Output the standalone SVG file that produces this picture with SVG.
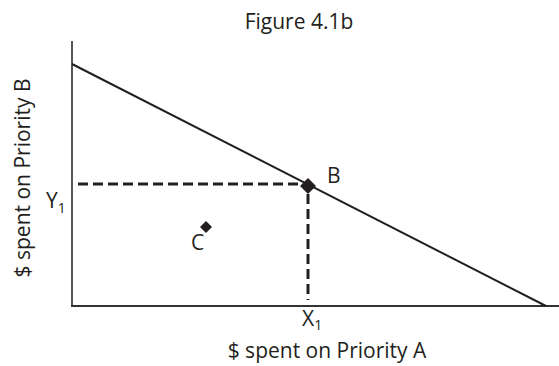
<svg xmlns="http://www.w3.org/2000/svg" width="559" height="366" viewBox="0 0 559 366">
<style>
text{font-family:"Open Sans","Noto Sans","Liberation Sans",sans-serif;fill:#231f20;font-size:21px}
.sub{font-size:14px}
.ax{stroke:#555;stroke-width:2;fill:none}
.ln{stroke:#231f20;stroke-width:2;fill:none}
.dash{stroke:#231f20;stroke-width:3;stroke-dasharray:10,5;fill:none}
.pt{fill:#231f20}
</style>
<rect width="559" height="366" fill="#fff"/>
<text id="title" x="299" y="29" text-anchor="middle">Figure 4.1b</text>
<g id="axes">
<path class="ax" d="M72,41 V306"/>
<path class="ax" d="M71,306 H559" style="stroke:#333"/>
</g>
<g id="connectors">
<path class="ln" d="M72,64 L546,306"/>
<path class="dash" d="M78,184 H300"/>
<path class="dash" d="M308,194 V300"/>
</g>
<g id="node-B">
<path class="pt" d="M308,178 L316,186 L308,194 L300,186 Z"/>
<text x="327" y="183">B</text>
</g>
<g id="node-C">
<path class="pt" d="M206,221 L212,227 L206,233 L200,227 Z"/>
<text x="191" y="250">C</text>
</g>
<g id="label-Y1">
<text x="46" y="208">Y<tspan class="sub" dy="5">1</tspan></text>
</g>
<g id="label-X1">
<text x="302" y="326">X<tspan class="sub" dy="4">1</tspan></text>
</g>
<text id="xlabel" x="327" y="358" text-anchor="middle">$ spent on Priority A</text>
<text id="ylabel" transform="translate(30,178) rotate(-90)" text-anchor="middle">$ spent on Priority B</text>
</svg>
